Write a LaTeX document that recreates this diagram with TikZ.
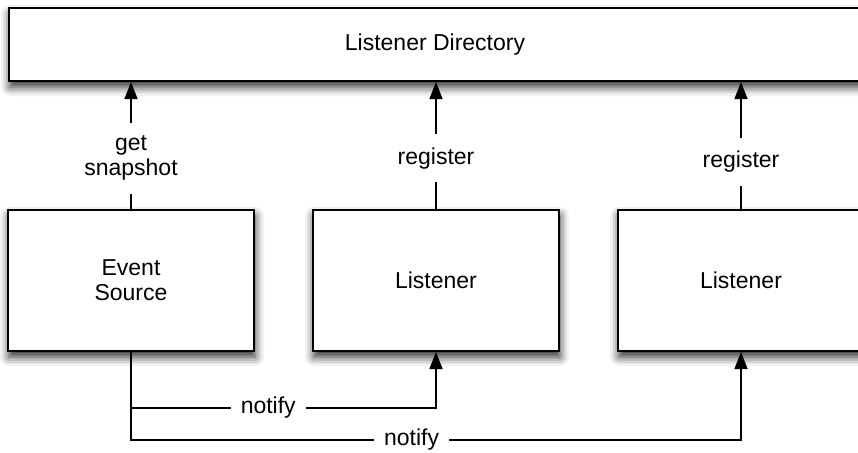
\documentclass[tikz,border=0pt]{standalone}
\usepackage{fontspec}
\setmainfont{Liberation Sans}
\usetikzlibrary{arrows.meta,shadows.blur}

\begin{document}
\begin{tikzpicture}[>={Triangle[length=17pt,width=13pt]},x=1pt,y=-1pt,
		font=\fontsize{23}{25}\selectfont,
		box/.style={draw,line width=2pt,fill=white,minimum width=246pt,minimum height=141pt,align=center,
			blur shadow={shadow xshift=1pt,shadow yshift=-6pt,shadow blur radius=9pt,shadow opacity=85}},
		lbl/.style={fill=white,inner xsep=10pt,inner ysep=13pt,align=center},
		link/.style={line width=1.5pt}]
	\useasboundingbox (0,0) rectangle (858,452);
	% boxes
	\node[box,minimum width=852pt,minimum height=73pt] (dir) at (435,44.5) {Listener Directory};
	\node[box] (src) at (131,280.5) {Event\\Source};
	\node[box] (lis1) at (436,280.5) {Listener};
	\node[box] (lis2) at (741,280.5) {Listener};
	% links to the directory
	\draw[->,link] (src.north) -- (src.north |- dir.south) node[lbl,pos=0.4] {get\\snapshot};
	\draw[->,link] (lis1.north) -- (lis1.north |- dir.south) node[lbl,pos=0.4] {register};
	\draw[->,link] (lis2.north) -- (lis2.north |- dir.south) node[lbl,pos=0.37] {register};
	% notifications
	\draw[->,link] (src.south) -- ++(0,56) -| (lis1.south) node[lbl,pos=0.225] {notify};
	\draw[->,link] (src.south) -- ++(0,88) -| (lis2.south) node[lbl,pos=0.23] {notify};
\end{tikzpicture}
\end{document}
